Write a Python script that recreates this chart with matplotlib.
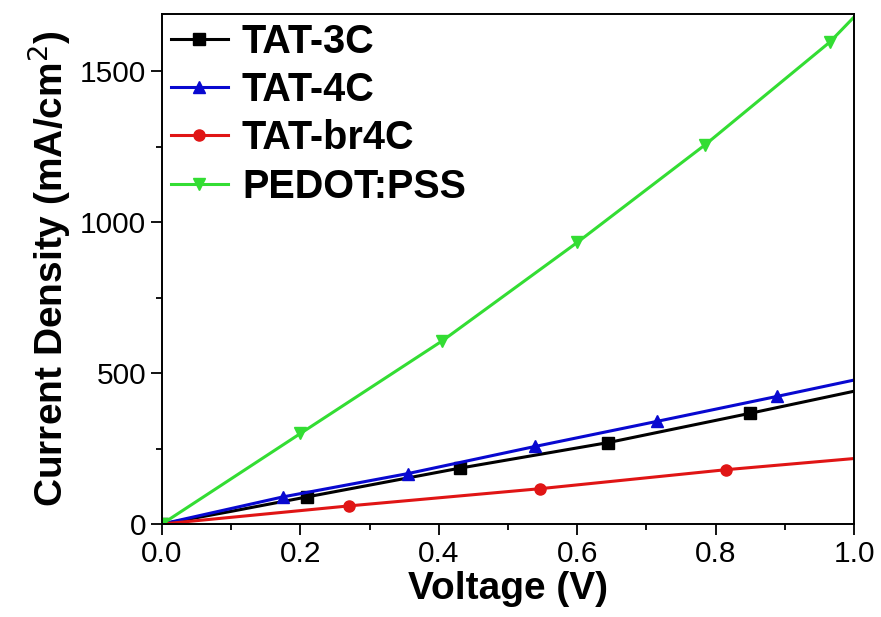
import matplotlib
matplotlib.use("Agg")
import matplotlib.pyplot as plt
from matplotlib.ticker import MultipleLocator

plt.rcParams["font.family"] = ["Liberation Sans", "DejaVu Sans"]

# J-V data (V in volts, J in mA/cm^2)
v_3c = [0.0, 0.10, 0.21, 0.43, 0.645, 0.85, 1.0]
j_3c = [0, 42, 90, 185, 270, 367, 440]

v_4c = [0.0, 0.175, 0.355, 0.539, 0.715, 0.889, 1.0]
j_4c = [0, 90, 167, 257, 340, 423, 477]

v_br = [0.0, 0.27, 0.546, 0.815, 1.0]
j_br = [0, 60, 117, 180, 217]

v_pedot = [0.0, 0.2, 0.405, 0.6, 0.785, 0.965, 1.0]
j_pedot = [0, 300, 607, 933, 1257, 1597, 1680]

fig = plt.figure(figsize=(8.81, 6.17), dpi=100)
ax = fig.add_axes([0.1839, 0.1507, 0.7855, 0.8266])

ax.plot(v_3c, j_3c, color="black", lw=2.2, marker="s", ms=8,
        markevery=[0, 2, 3, 4, 5], label="TAT-3C")
ax.plot(v_4c, j_4c, color="#0808d0", lw=2.2, marker="^", ms=9,
        markevery=[0, 1, 2, 3, 4, 5], label="TAT-4C")
ax.plot(v_br, j_br, color="#e01515", lw=2.2, marker="o", ms=8,
        markevery=[0, 1, 2, 3], label="TAT-br4C")
ax.plot(v_pedot, j_pedot, color="#33dd33", lw=2.2, marker="v", ms=9,
        markevery=[0, 1, 2, 3, 4, 5], label="PEDOT:PSS")

ax.set_xlim(0, 1.0)
ax.set_ylim(0, 1690)
ax.xaxis.set_major_locator(MultipleLocator(0.2))
ax.xaxis.set_minor_locator(MultipleLocator(0.1))
ax.yaxis.set_major_locator(MultipleLocator(500))
ax.yaxis.set_minor_locator(MultipleLocator(250))
ax.xaxis.set_major_formatter(plt.FormatStrFormatter("%.1f"))

ax.tick_params(which="major", direction="out", length=8, width=1.3,
               labelsize=21.5, top=False, right=False)
ax.tick_params(which="minor", direction="out", length=4.5, width=1.3,
               top=False, right=False)
for s in ax.spines.values():
    s.set_linewidth(1.4)

ax.set_xlabel("Voltage (V)", fontsize=28, fontweight="bold", labelpad=2)
ax.set_ylabel("Current Density (mA/cm$^2$)", fontsize=28, fontweight="bold",
              labelpad=5)

leg = ax.legend(loc="upper left", frameon=False,
                prop={"weight": "bold", "size": 28.5},
                handlelength=1.45, handletextpad=0.35, labelspacing=0.26,
                borderaxespad=0.0, borderpad=0.22)

fig.savefig("out.png", dpi=100)
